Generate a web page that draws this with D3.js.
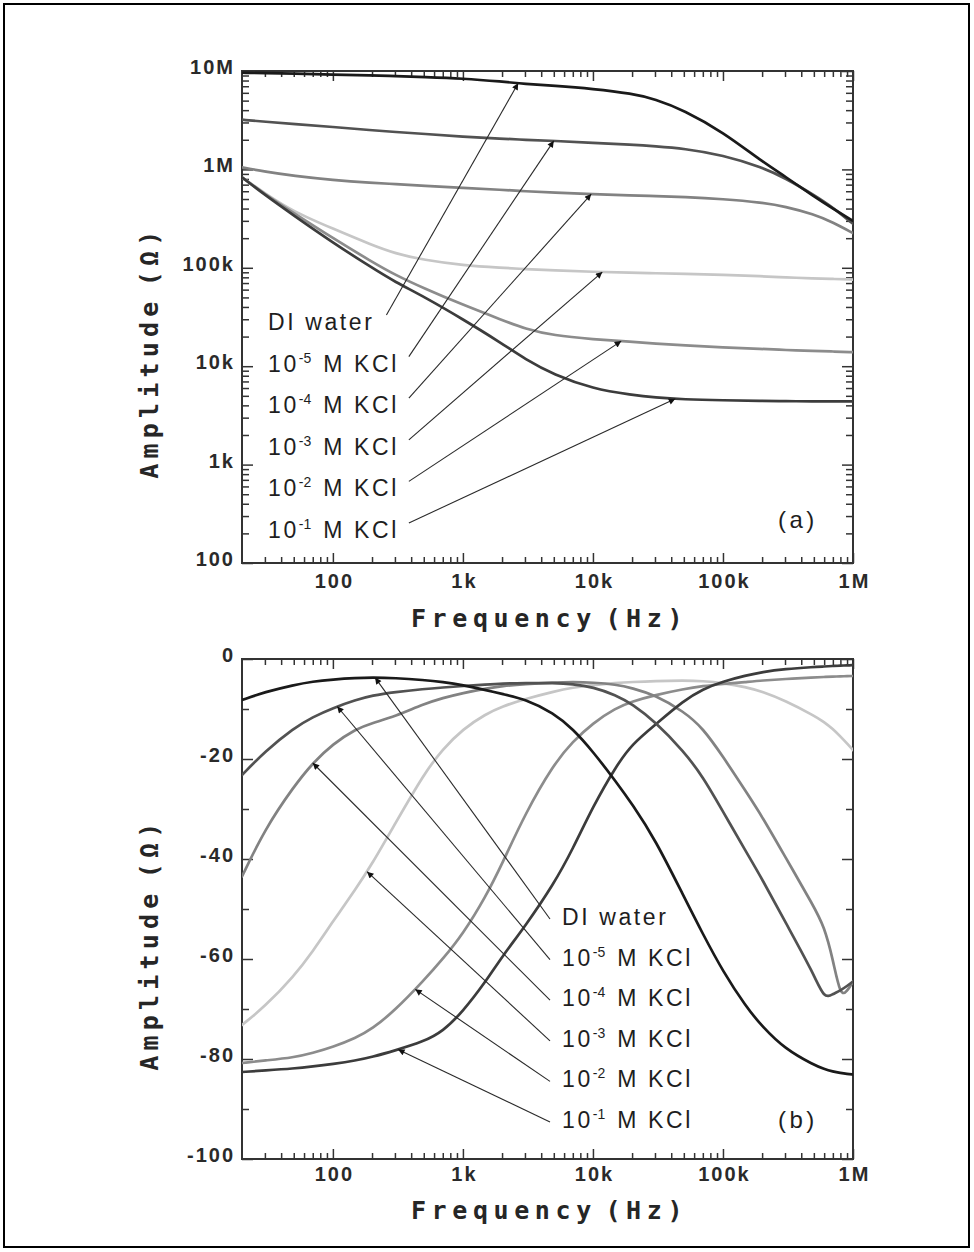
<!DOCTYPE html>
<html>
<head>
<meta charset="utf-8">
<script src="https://cdn.jsdelivr.net/npm/d3@7"></script>
<style>
  body { margin: 0; background: #fff; }
  svg { display: block; }
</style>
</head>
<body>
<svg id="chart" width="974" height="1252"></svg>
<script>
// ---------- (a) impedance amplitude, ohms ----------
const freqA = [20, 30, 50, 100, 200, 300, 500, 1e3, 2e3, 3e3, 5e3, 1e4, 2e4, 3e4, 5e4, 1e5, 2e5, 3e5, 5e5, 7e5, 1e6];
const ampDI = [9.6e6, 9.5e6, 9.4e6, 9.2e6, 9.0e6, 8.9e6, 8.7e6, 8.4e6, 7.8e6, 7.4e6, 7.1e6, 6.6e6, 5.9e6, 5.2e6, 4.0e6, 2.4e6, 1.2e6, 8.5e5, 5.3e5, 4.0e5, 3.0e5];
const ampK5 = [3.2e6, 3.05e6, 2.9e6, 2.7e6, 2.5e6, 2.4e6, 2.3e6, 2.15e6, 2.05e6, 2.0e6, 1.95e6, 1.86e6, 1.78e6, 1.72e6, 1.63e6, 1.4e6, 1.05e6, 8.2e5, 5.5e5, 4.1e5, 2.8e5];
const ampK4 = [1.05e6, 9.5e5, 8.6e5, 7.8e5, 7.3e5, 7.1e5, 6.8e5, 6.5e5, 6.2e5, 6.0e5, 5.8e5, 5.6e5, 5.45e5, 5.35e5, 5.25e5, 5.0e5, 4.6e5, 4.2e5, 3.5e5, 2.9e5, 2.25e5];
const ampK3 = [8.3e5, 5.7e5, 3.7e5, 2.5e5, 1.7e5, 1.4e5, 1.2e5, 1.06e5, 1.0e5, 9.7e4, 9.4e4, 9.1e4, 8.9e4, 8.8e4, 8.7e4, 8.5e4, 8.2e4, 8.0e4, 7.8e4, 7.7e4, 7.6e4];
const ampK2 = [8.3e5, 5.6e5, 3.6e5, 2.0e5, 1.15e5, 8.5e4, 6.2e4, 4.2e4, 2.95e4, 2.4e4, 2.05e4, 1.88e4, 1.77e4, 1.7e4, 1.63e4, 1.55e4, 1.5e4, 1.46e4, 1.43e4, 1.41e4, 1.39e4];
const ampK1 = [8.3e5, 5.5e5, 3.4e5, 1.8e5, 1.0e5, 7.2e4, 5.1e4, 3.0e4, 1.7e4, 1.18e4, 8.2e3, 5.9e3, 5.1e3, 4.8e3, 4.6e3, 4.5e3, 4.45e3, 4.4e3, 4.4e3, 4.4e3, 4.4e3];

// ---------- (b) phase ----------
const freqB = [20, 30, 50, 70, 100, 150, 200, 300, 500, 700, 1e3, 1.5e3, 2e3, 3e3, 5e3, 7e3, 1e4, 1.5e4, 2e4, 3e4, 5e4, 7e4, 1e5, 1.5e5, 2e5, 3e5, 5e5, 6e5, 7e5, 8e5, 9e5, 1e6];
const phDI = [-8.2, -6.6, -5.2, -4.5, -4.1, -3.8, -3.7, -3.8, -4.2, -4.6, -5.2, -6.2, -7.0, -8.0, -10.8, -14, -18.5, -24.5, -29, -36, -47.5, -55, -62.5, -69.5, -73.5, -78, -81.2, -82, -82.5, -82.8, -83, -83.1];
const phK5 = [-23.2, -18.5, -13.8, -11.6, -9.8, -8.2, -7.3, -6.6, -6.0, -5.7, -5.4, -5.1, -4.9, -4.8, -4.8, -5.0, -5.6, -7.2, -9.0, -12.5, -18.5, -23.5, -30.5, -38.5, -44, -52.5, -63, -68, -67, -66.3, -65.4, -64.5];
const phK4 = [-43.5, -34, -25.5, -20.8, -17, -14, -12.8, -11.5, -9, -7.8, -6.8, -5.9, -5.4, -5.0, -4.7, -4.6, -4.7, -5.1, -5.8, -7.2, -10.5, -13.8, -19.5, -26.5, -31.5, -39.5, -49.5, -53.5, -60, -67.5, -66.5, -64.5];
const phK3 = [-73.2, -69.5, -63.5, -58.5, -52.5, -46, -41, -33, -23, -18, -14, -11, -9.5, -8, -6.5, -5.7, -5.2, -4.8, -4.6, -4.4, -4.3, -4.4, -4.8, -5.6, -6.5, -8.3, -11.3, -12.6, -14, -15.5, -16.9, -18.2];
const phK2 = [-80.8, -80.3, -79.7, -78.8, -77.6, -75.8, -74, -70.3, -64.3, -60, -55, -47.5, -41, -31, -21, -16.5, -12.8, -9.8, -8.5, -7.2, -6, -5.4, -5.0, -4.6, -4.3, -4.0, -3.7, -3.6, -3.5, -3.5, -3.4, -3.4];
const phK1 = [-82.6, -82.3, -81.9, -81.5, -81, -80.3, -79.6, -78.3, -76.5, -74.5, -70.5, -64.5, -59.5, -53.5, -45, -38, -29.5, -21.5, -17, -13.2, -8.3, -6, -4.5, -3.3, -2.6, -2.0, -1.6, -1.5, -1.4, -1.3, -1.3, -1.2];

// ---------- series styling / legend ----------
const seriesKeys   = ['DI', 'K5', 'K4', 'K3', 'K2', 'K1'];
const concExponent = [null, '-5', '-4', '-3', '-2', '-1'];
const seriesColor  = ['#1a1a1a', '#525252', '#828282', '#c6c6c6', '#8c8c8c', '#3c3c3c'];
const ampSeries    = [ampDI, ampK5, ampK4, ampK3, ampK2, ampK1];
const phaseSeries  = [phDI, phK5, phK4, phK3, phK2, phK1];
const drawOrder    = [3, 4, 2, 5, 1, 0];

// frequencies where each leader arrow meets its curve
const arrowFreqA = [2660, 5000, 9700, 11800, 16500, 43000];
const arrowFreqB = [211, 108, 70, 183, 430, 317];

// axis ticks
const freqTicks = [100, 1e3, 1e4, 1e5, 1e6];
const ampTicks  = [100, 1e3, 1e4, 1e5, 1e6, 1e7];
const phaseTicks = [-100, -80, -60, -40, -20, 0];
const phaseMinor = [-90, -70, -50, -30, -10];

const fontSans = "'Liberation Sans', Arial, Helvetica, sans-serif";
const fontMono = "'DejaVu Sans Mono', 'Liberation Mono', monospace";
const ink = '#1e1e1e';

const svg = d3.select('#chart');

// outer frame around the figure
svg.append('rect')
  .attr('x', 4).attr('y', 4).attr('width', 965).attr('height', 1243)
  .attr('fill', 'none').attr('stroke', '#000').attr('stroke-width', 2);

const defs = svg.append('defs');
defs.append('marker')
  .attr('id', 'arrowhead')
  .attr('viewBox', '0 0 10 10')
  .attr('refX', 10).attr('refY', 5)
  .attr('markerWidth', 10).attr('markerHeight', 6.5)
  .attr('markerUnits', 'userSpaceOnUse')
  .attr('orient', 'auto')
  .append('path').attr('d', 'M0,0 L10,5 L0,10 Z').attr('fill', '#111');

const left = 242, right = 853;

function fmtFreq(f) {
  if (f >= 1e6) return (f / 1e6) + 'M';
  if (f >= 1e3) return (f / 1e3) + 'k';
  return String(f);
}

function logMinors(lo, hi) {
  const out = [];
  for (let d = 1; d <= hi; d *= 10) {
    for (let m = 2; m <= 9; m++) {
      const v = m * d;
      if (v > lo && v < hi) out.push(v);
    }
  }
  return out;
}

// value of a series at frequency f (interpolated in log-frequency)
function valueAt(freqs, vals, f, logY) {
  const lf = Math.log10(f);
  for (let i = 0; i < freqs.length - 1; i++) {
    const a = Math.log10(freqs[i]), b = Math.log10(freqs[i + 1]);
    if (lf >= a && lf <= b) {
      const t = (lf - a) / (b - a);
      if (logY) {
        const va = Math.log10(vals[i]), vb = Math.log10(vals[i + 1]);
        return Math.pow(10, va + t * (vb - va));
      }
      return vals[i] + t * (vals[i + 1] - vals[i]);
    }
  }
  return vals[vals.length - 1];
}

function styleTicks(g) {
  g.select('.domain').remove();
  g.selectAll('.tick line').attr('stroke', '#333').attr('stroke-width', 1.5);
  g.attr('font-family', fontSans).attr('font-size', 20).attr('font-weight', 'bold');
  g.selectAll('.tick text').attr('fill', '#2a2a2a').style('letter-spacing', '2px');
}

function drawPanel(p) {
  const x = p.x, y = p.y, top = p.top, bottom = p.bottom;
  const root = svg.append('g');

  const clipId = 'clip-' + p.id;
  defs.append('clipPath').attr('id', clipId)
    .append('rect').attr('x', left).attr('y', top)
    .attr('width', right - left).attr('height', bottom - top);

  // bottom x axis with labels
  root.append('g').attr('transform', `translate(0,${bottom})`)
    .call(d3.axisBottom(x).tickValues(freqTicks).tickFormat(fmtFreq)
      .tickSizeInner(-10).tickSizeOuter(0).tickPadding(p.xPad))
    .call(styleTicks)
    .call(g => g.selectAll('.tick text').attr('dx', '1px'));
  root.append('g').attr('transform', `translate(0,${bottom})`)
    .call(d3.axisBottom(x).tickValues(logMinors(20, 1e6)).tickFormat('')
      .tickSizeInner(-6).tickSizeOuter(0))
    .call(styleTicks);
  // mirrored top x axis
  root.append('g').attr('transform', `translate(0,${top})`)
    .call(d3.axisTop(x).tickValues(freqTicks).tickFormat('')
      .tickSizeInner(-10).tickSizeOuter(0))
    .call(styleTicks);
  root.append('g').attr('transform', `translate(0,${top})`)
    .call(d3.axisTop(x).tickValues(logMinors(20, 1e6)).tickFormat('')
      .tickSizeInner(-6).tickSizeOuter(0))
    .call(styleTicks);

  // left y axis with labels
  root.append('g').attr('transform', `translate(${left},0)`)
    .call(d3.axisLeft(y).tickValues(p.yTicks).tickFormat(p.yFormat)
      .tickSizeInner(-11).tickSizeOuter(0).tickPadding(7))
    .call(styleTicks)
    .call(g => g.selectAll('.tick text').attr('y', -4));
  root.append('g').attr('transform', `translate(${left},0)`)
    .call(d3.axisLeft(y).tickValues(p.yMinor).tickFormat('')
      .tickSizeInner(-7).tickSizeOuter(0))
    .call(styleTicks);
  // mirrored right y axis
  root.append('g').attr('transform', `translate(${right},0)`)
    .call(d3.axisRight(y).tickValues(p.yTicks).tickFormat('')
      .tickSizeInner(-11).tickSizeOuter(0))
    .call(styleTicks);
  root.append('g').attr('transform', `translate(${right},0)`)
    .call(d3.axisRight(y).tickValues(p.yMinor).tickFormat('')
      .tickSizeInner(-7).tickSizeOuter(0))
    .call(styleTicks);

  // plot frame
  root.append('rect')
    .attr('x', left).attr('y', top)
    .attr('width', right - left).attr('height', bottom - top)
    .attr('fill', 'none').attr('stroke', '#333').attr('stroke-width', 2);

  // curves (B-spline through the sampled points for a smooth trace)
  const line = d3.line()
    .x(d => x(d[0])).y(d => y(d[1]))
    .curve(d3.curveBasis);
  const curves = root.append('g').attr('clip-path', `url(#${clipId})`);
  drawOrder.forEach(i => {
    const pts = p.freqs.map((f, k) => [f, p.series[i][k]]);
    curves.append('path')
      .attr('d', line(pts))
      .attr('fill', 'none')
      .attr('stroke', seriesColor[i])
      .attr('stroke-width', 2.7)
      .attr('stroke-linejoin', 'round')
      .attr('stroke-linecap', 'round');
  });

  // legend labels and leader arrows
  const lg = root.append('g');
  seriesKeys.forEach((key, i) => {
    const cy = p.labelY0 + i * p.labelStep;
    const t = lg.append('text')
      .attr('x', p.labelX).attr('y', cy + 8)
      .attr('font-family', fontSans).attr('font-size', 23)
      .attr('fill', ink).style('letter-spacing', '2.6px');
    if (concExponent[i] === null) {
      t.text('DI water');
    } else {
      t.append('tspan').text('10');
      t.append('tspan').attr('dy', -9).attr('font-size', 14)
        .style('letter-spacing', '0px').text(concExponent[i]);
      t.append('tspan').attr('dy', 9).attr('dx', 3).text(' M KCl');
    }
    const box = t.node().getBBox();
    const tipF = p.arrowFreqs[i];
    const tipV = valueAt(p.freqs, p.series[i], tipF, p.logY);
    let sx, sy;
    if (p.arrowFromRight) {
      sx = box.x + box.width + (i === 0 ? 12 : 10);
      sy = cy - 7;
    } else {
      sx = p.labelX - 12;
      sy = cy + 2;
    }
    lg.append('line')
      .attr('x1', sx).attr('y1', sy)
      .attr('x2', x(tipF)).attr('y2', y(tipV))
      .attr('stroke', '#2a2a2a').attr('stroke-width', 1.1)
      .attr('marker-end', 'url(#arrowhead)');
  });

  // panel tag
  root.append('text')
    .attr('x', 778).attr('y', p.tagY)
    .attr('font-family', fontSans).attr('font-size', 24)
    .attr('fill', ink).style('letter-spacing', '3.5px')
    .text(p.tag);

  // axis titles
  root.append('text')
    .attr('x', (left + right) / 2 + 2).attr('y', p.xTitleY)
    .attr('text-anchor', 'middle')
    .attr('font-family', fontMono).attr('font-size', 25).attr('font-weight', 'bold')
    .attr('fill', '#262626')
    .style('letter-spacing', '5.6px').style('word-spacing', '-12px')
    .text('Frequency (Hz)');
  root.append('text')
    .attr('transform', `translate(158,${p.yTitleY}) rotate(-90)`)
    .attr('text-anchor', 'middle')
    .attr('font-family', fontMono).attr('font-size', 25).attr('font-weight', 'bold')
    .attr('fill', '#262626')
    .style('letter-spacing', '5.2px').style('word-spacing', '-10px')
    .text('Amplitude (\u03A9)');
}

// panel (a)
const xA = d3.scaleLog().domain([20, 1e6]).range([left, right]);
const yA = d3.scaleLog().domain([100, 1e7]).range([563, 71]);
drawPanel({
  id: 'a', x: xA, y: yA, top: 71, bottom: 563, logY: true,
  freqs: freqA, series: ampSeries, arrowFreqs: arrowFreqA,
  yTicks: ampTicks, yMinor: logMinors(100, 1e7), yFormat: fmtFreq,
  xPad: 11, labelX: 268, labelY0: 322, labelStep: 41.6, arrowFromRight: true,
  tag: '(a)', tagY: 528, xTitleY: 627, yTitleY: 352
});

// panel (b)
const xB = d3.scaleLog().domain([20, 1e6]).range([left, right]);
const yB = d3.scaleLinear().domain([-100, 0]).range([1159, 659]);
drawPanel({
  id: 'b', x: xB, y: yB, top: 659, bottom: 1159, logY: false,
  freqs: freqB, series: phaseSeries, arrowFreqs: arrowFreqB,
  yTicks: phaseTicks, yMinor: phaseMinor, yFormat: d => String(d),
  xPad: 8, labelX: 562, labelY0: 917, labelStep: 40.6, arrowFromRight: false,
  tag: '(b)', tagY: 1128, xTitleY: 1219, yTitleY: 944
});
</script>
</body>
</html>
